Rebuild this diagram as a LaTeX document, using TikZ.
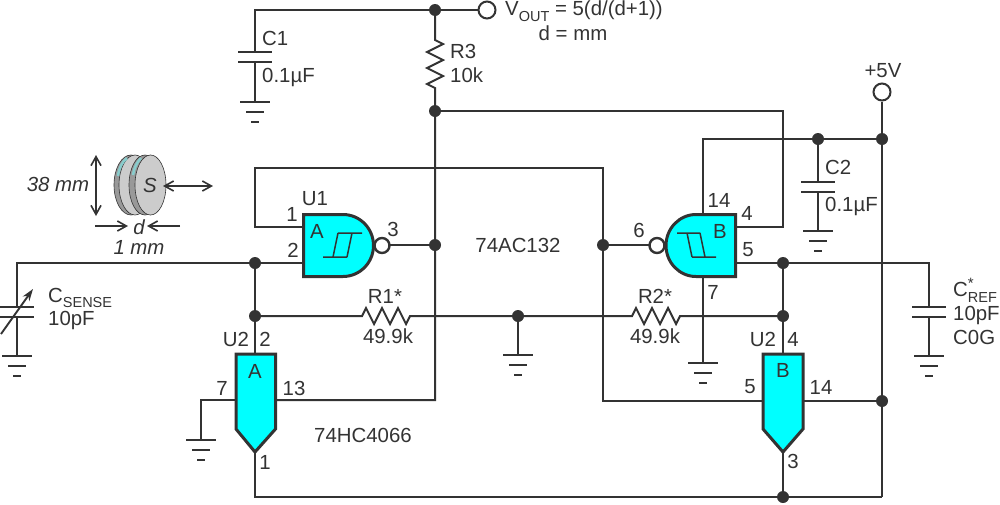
\documentclass[tikz,border=0pt]{standalone}
\usepackage{fontspec}
\setmainfont{Liberation Sans}
\usetikzlibrary{arrows.meta,calc}
\definecolor{ink}{HTML}{333333}
\definecolor{chip}{HTML}{00FFFF}
\definecolor{diskface}{HTML}{CCCCCC}
\definecolor{diskrim}{HTML}{999999}
\definecolor{diskteal}{HTML}{88CCCC}
\newcommand{\lowsub}[1]{\raisebox{-0.28em}{\fontsize{14.5}{14.5}\selectfont #1}}
\newcommand{\rgnd}[1]{\draw[wire] ([xshift=-15pt]#1) -- ([xshift=15pt]#1);
  \draw[wire] ($(#1)+(-9,10)$) -- ($(#1)+(9,10)$);
  \draw[wire] ($(#1)+(-4,19.5)$) -- ($(#1)+(4,19.5)$);}
\newcommand{\rcap}[1]{\draw[wire] ($(#1)+(-17,0)$) -- ($(#1)+(17,0)$);
  \draw[wire] ($(#1)+(-17,10)$) -- ($(#1)+(17,10)$);}
\tikzset{
  wire/.style={draw=ink,line width=2pt},
  thin wire/.style={draw=ink,line width=1.5pt},
  outline/.style={draw=ink,fill=chip,line width=3pt,line join=miter},
  dot/.style={circle,fill=ink,inner sep=0pt,minimum size=12pt},
  pad/.style={circle,draw=ink,line width=2pt,fill=white,inner sep=0pt,minimum size=17pt},
  bubble/.style={circle,draw=ink,line width=2.4pt,fill=white,inner sep=0pt,minimum size=15pt},
  txt/.style={text=ink,font=\fontsize{20.4}{20.4}\selectfont,inner sep=0pt,anchor=center},
  ltxt/.style={txt,anchor=west},
  itxt/.style={txt,font=\fontsize{20.4}{20.4}\selectfont\itshape},
  dim/.style={draw=ink,line width=1.6pt,{Straight Barb[length=9pt,width=10pt,line width=1.6pt]}-{Straight Barb[length=9pt,width=10pt,line width=1.6pt]}},
  dimone/.style={draw=ink,line width=1.6pt,-{Straight Barb[length=9pt,width=10pt,line width=1.6pt]}},
}
\begin{document}
\begin{tikzpicture}[x=1pt,y=-1pt]
\useasboundingbox (0,0) rectangle (1000,504);
% junctions and free ends
\coordinate (topL) at (255,10);
\coordinate (c1a) at (255,52);
\coordinate (c1b) at (255,62);
\coordinate (c1g) at (255,102);
\coordinate (nTop) at (435,10);
\coordinate (r3a) at (435,40);
\coordinate (r3b) at (435,88);
\coordinate (n111) at (435,111);
\coordinate (c111) at (783,111);
\coordinate (pin4) at (736,227);
\coordinate (c227) at (783,227);
\coordinate (n3) at (435,245);
\coordinate (c400) at (435,400);
\coordinate (pin13) at (276,400);
\coordinate (pin1) at (303,227);
\coordinate (k227) at (255,227);
\coordinate (k168) at (255,168);
\coordinate (m168) at (603,168);
\coordinate (n6) at (603,245);
\coordinate (m401) at (603,401);
\coordinate (pin5b) at (763,401);
\coordinate (pin2) at (303,263);
\coordinate (n2) at (255,263);
\coordinate (csC) at (17,263);
\coordinate (csa) at (17,307);
\coordinate (csb) at (17,317);
\coordinate (csg) at (17,356);
\coordinate (n316) at (255,316);
\coordinate (swAtop) at (255,354);
\coordinate (r1a) at (362,316);
\coordinate (r1b) at (410,316);
\coordinate (nMid) at (518,316);
\coordinate (gMid) at (518,355);
\coordinate (r2a) at (632,316);
\coordinate (r2b) at (680,316);
\coordinate (n316r) at (783,316);
\coordinate (n5) at (783,263);
\coordinate (pin5) at (736,263);
\coordinate (swBtop) at (783,354);
\coordinate (k263) at (929,263);
\coordinate (crefa) at (929,307);
\coordinate (crefb) at (929,317);
\coordinate (crefg) at (929,356);
\coordinate (pin7) at (703,276);
\coordinate (g7) at (703,363);
\coordinate (pin14) at (703,214);
\coordinate (k139) at (703,139);
\coordinate (n139a) at (818,139);
\coordinate (n139b) at (882,139);
\coordinate (c2a) at (818,182);
\coordinate (c2b) at (818,192);
\coordinate (c2g) at (818,231);
\coordinate (n401) at (882,401);
\coordinate (pin14b) at (803,401);
\coordinate (k497) at (882,497);
\coordinate (n497) at (783,497);
\coordinate (b497) at (255,497);
\coordinate (tipA) at (255,452);
\coordinate (tipB) at (783,452);
\coordinate (pin7a) at (236,400);
\coordinate (k400) at (201,400);
\coordinate (g7a) at (201,440);
% wires
\draw[wire] (nTop) -- (topL) -- (c1a) (c1b) -- (c1g);
\rcap{c1a}\rgnd{c1g}
\draw[wire] (nTop) -- (r3a)
  -- ++(8,4) -- ++(-16,8) -- ++(16,8) -- ++(-16,8) -- ++(16,8) -- ++(-16,8) -- (r3b) -- (n111) -- (c400) -- (pin13);
\draw[wire] (n111) -- (c111) -- (c227) -- (pin4);
\draw[wire] (pin1) -- (k227) -- (k168) -- (m168) -- (m401) -- (pin5b);
\draw[wire] (pin2) -- (csC) -- (csa) (csb) -- (csg);
\rcap{csa}\rgnd{csg}
\draw[wire] (n2) -- (swAtop);
\draw[wire] (n316) -- (r1a)
  -- ++(4,-8) -- ++(8,16) -- ++(8,-16) -- ++(8,16) -- ++(8,-16) -- ++(8,16) -- (r1b) -- (r2a)
  -- ++(4,-8) -- ++(8,16) -- ++(8,-16) -- ++(8,16) -- ++(8,-16) -- ++(8,16) -- (r2b) -- (n316r);
\draw[wire] (nMid) -- (gMid); \rgnd{gMid}
\draw[wire] (pin5) -- (k263) -- (crefa) (crefb) -- (crefg);
\rcap{crefa}\rgnd{crefg}
\draw[wire] (n5) -- (swBtop);
\draw[wire] (pin7) -- (g7); \rgnd{g7}
\draw[wire] (pin14) -- (k139) -- (n139b);
\draw[wire] (n139a) -- (c2a) (c2b) -- (c2g);
\rcap{c2a}\rgnd{c2g}
\draw[wire] (pin14b) -- (n401);
\draw[wire] (tipA) -- (b497) -- (k497);
\draw[wire] (tipB) -- (n497);
\draw[wire] (pin7a) -- (k400) -- (g7a); \rgnd{g7a}
\node[pad] (vout) at (487,10) {};
\node[pad] (vcc) at (882,92) {};
\draw[wire] (nTop) -- (vout);
\draw[wire] (vcc) -- (k497);
\draw[wire] (n3) -- (390,245);
\draw[wire] (n6) -- (649,245);
% variable capacitor arrow
\draw[dimone,line width=1.9pt,-{Stealth[length=12pt,width=8pt]}] (1,334) -- (33,289);
% gates
\path[outline] (303.5,214.5) -- (343,214.5) arc[start angle=-90,end angle=90,x radius=30.5,y radius=31] -- (303.5,276.5) -- cycle;
\path[outline] (735.5,214.5) -- (696,214.5) arc[start angle=-90,end angle=-270,x radius=30,y radius=31] -- (735.5,276.5) -- cycle;
\node[bubble] (bubA) at (382,245.5) {};
\node[bubble] (bubB) at (657,245.5) {};
\draw[thin wire] (338,233) -- (362,233) (352,233) -- (347,257) (338,233) -- (333,257) (323,257) -- (347,257);
\draw[thin wire] (677,233) -- (700,233) (687,233) -- (692,257) (700,233) -- (705,257) (692,257) -- (716,257);
% switches
\path[outline] (236,354) -- (275.5,354) -- (275.5,429) -- (255,452) -- (236,429) -- cycle;
\path[outline] (763,354) -- (803,354) -- (803,429) -- (783,452) -- (763,429) -- cycle;
% dots
\foreach \p in {nTop,n111,n3,n2,n316,nMid,n6,n5,n316r,n139a,n139b,n401,n497}
  \node[dot] at (\p) {};
% sensor
\fill[diskrim,draw=ink,line width=.6pt] (131,185) ellipse[x radius=17,y radius=30];
\fill[diskface,draw=ink,line width=.6pt] (135,185) ellipse[x radius=16,y radius=30];
\fill[diskrim,draw=ink,line width=.6pt] (145,185) ellipse[x radius=16,y radius=30];
\fill[diskface,draw=ink,line width=.6pt] (150.5,185) ellipse[x radius=15.5,y radius=30];
\draw[line width=2.5pt,draw=diskteal] (118,176) .. controls (119,168) and (122,162) .. (127,158);
\draw[line width=2.5pt,draw=diskteal] (133,175) .. controls (134,168) and (137,162) .. (141,158);
\node[itxt] (sLab) at (150,185) {S};
\coordinate (sR) at (163,186);
\coordinate (sR2) at (213,186);
\draw[dim] (sR) -- (sR2);
\coordinate (dimT) at (96,155);
\coordinate (dimB) at (96,216);
\draw[dim] (dimT) -- (dimB);
\node[itxt] (dLab) at (139,227) {d};
\coordinate (dL) at (95,226);
\coordinate (dR) at (180,226);
\draw[dimone] (dL) -- (128,226);
\draw[dimone] (dR) -- (147,226);
\node[itxt] (l1mm) at (139,247) {1 mm};
\node[itxt] (l38) at (58,184) {38 mm};
% labels
\node[ltxt] (lC1) at (262,38) {C1};
\node[ltxt] (lC1v) at (262,77) {0.1µF};
\node[ltxt] (lR3) at (450,51) {R3};
\node[ltxt] (lR3v) at (450,75) {10k};
\node[ltxt] (lV) at (505,11.5) {V\lowsub{OUT} = 5(d/(d+1))};
\node[txt] (lD) at (573,33) {d = mm};
\node[txt] (l5V) at (883,71) {+5V};
\node[txt] (lU1) at (315,199) {U1};
\node[txt] (l1) at (292,214) {1};
\node[txt] (l2) at (293,250) {2};
\node[txt] (l3) at (393,229) {3};
\node[txt] (lA) at (317,231) {A};
\node[txt] (lAC) at (518,245) {74AC132};
\node[txt] (l6) at (639,230) {6};
\node[txt] (l14) at (719,200) {14};
\node[txt] (l4) at (747,213) {4};
\node[txt] (l5) at (748,250) {5};
\node[txt] (lB) at (720,231) {B};
\node[txt] (l7) at (713,292) {7};
\node[ltxt] (lC2) at (825,167) {C2};
\node[ltxt] (lC2v) at (825,206) {0.1µF};
\node[txt] (lR1) at (385,296) {R1*};
\node[txt] (lR1v) at (388,336) {49.9k};
\node[txt] (lR2) at (655,296) {R2*};
\node[txt] (lR2v) at (655,336) {49.9k};
\node[txt] (lU2a) at (236,339) {U2};
\node[txt] (l2a) at (265,339) {2};
\node[txt] (lAs) at (255,371) {A};
\node[txt] (l7a) at (222,388) {7};
\node[txt] (l13) at (294,388) {13};
\node[txt] (lHC) at (363,435) {74HC4066};
\node[txt] (l1a) at (265,462) {1};
\node[txt] (lU2b) at (763,339) {U2};
\node[txt] (l4b) at (793,339) {4};
\node[txt] (lBs) at (783,370) {B};
\node[txt] (l5b) at (750,387) {5};
\node[txt] (l14b) at (821,387) {14};
\node[txt] (l3b) at (793,461) {3};
\node[ltxt] (lCs) at (48,298) {C\lowsub{SENSE}};
\node[ltxt] (lCsv) at (48,320) {10pF};
\node[ltxt] (lCr) at (953,290.5) {C\rlap{\raisebox{0.38em}{\fontsize{15}{15}\selectfont *}}\lowsub{REF}};
\node[ltxt] (lCrv) at (953,315) {10pF};
\node[ltxt] (lCrt) at (953,337) {C0G};
\end{tikzpicture}
\end{document}
